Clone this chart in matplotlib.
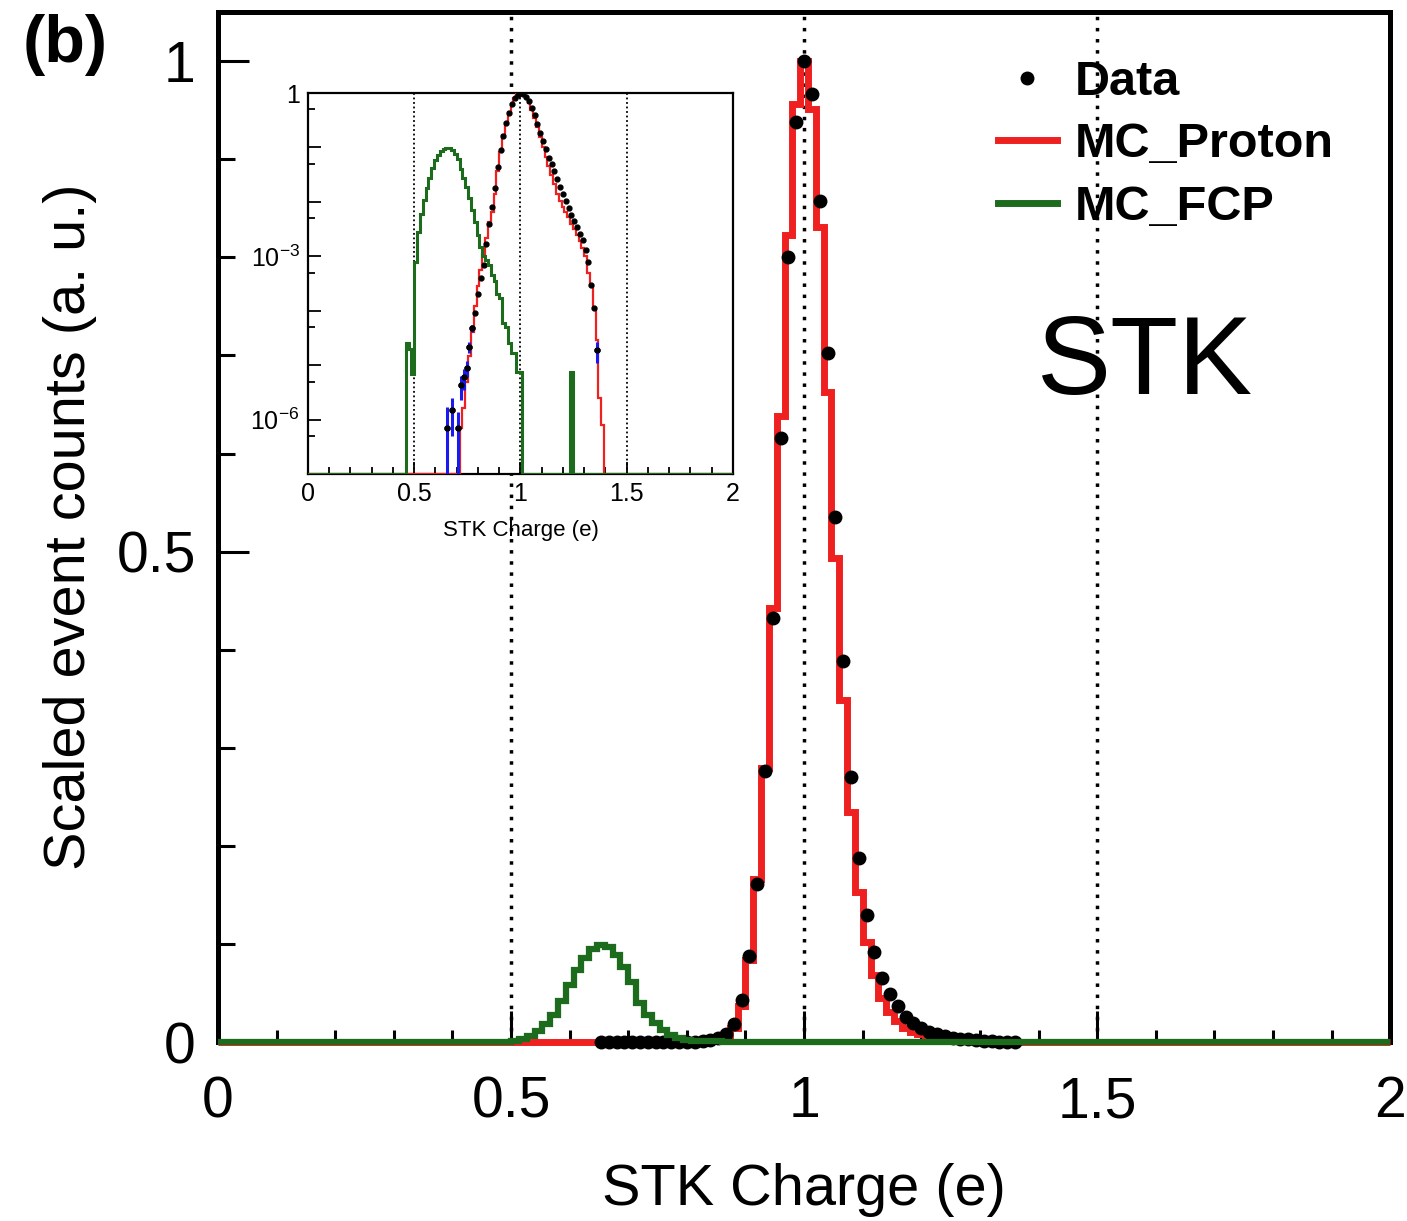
import numpy as np
import matplotlib.pyplot as plt
from matplotlib.ticker import MultipleLocator, FixedLocator, FuncFormatter, NullFormatter
from matplotlib.lines import Line2D

plt.rcParams['font.family'] = ['Liberation Sans', 'DejaVu Sans']
plt.rcParams['mathtext.fontset'] = 'custom'
plt.rcParams['mathtext.rm'] = 'Liberation Sans'
plt.rcParams['mathtext.it'] = 'Liberation Sans:italic'

# binning: bins of 1/75 e centred on multiples of 1/75 (index k -> charge k/75)
n_bins = 151
centers = np.arange(n_bins) / 75.0
edges = np.clip((np.arange(n_bins + 1) - 0.5) / 75.0, 0, 2)

# MC_FCP, bins 35..93
fcp_first = 35
fcp_vals = [2.5e-5, 2.0e-5, 7e-6, 8e-4, 2.8e-3, 6e-3, 0.011, 0.018, 0.028, 0.042,
            0.058, 0.073, 0.086, 0.095, 0.099, 0.097, 0.089, 0.076, 0.061, 0.040,
            0.028, 0.019, 0.012, 0.0072, 0.0042, 0.0025, 0.0015, 0.0010, 8.5e-4, 7e-4,
            4.5e-4, 3.5e-4, 2e-4, 1.7e-4, 6e-5, 5e-5, 2.6e-5, 1.7e-5, 1.7e-5, 7.4e-6,
            7.4e-6, 0, 0, 0, 0, 0, 0, 0, 0, 0,
            0, 0, 0, 0, 0, 0, 0, 0, 7.4e-6]

# MC_Proton, bins 54..104
proton_first = 54
proton_vals = [7e-7, 1.6e-6, 5e-6, 1.5e-5, 4e-5, 1.2e-4, 2.8e-4, 5.5e-4, 1.1e-3, 2.2e-3,
               4.2e-3, 0.0065, 0.014, 0.037, 0.084, 0.166, 0.279, 0.443, 0.638, 0.823,
               0.956, 1.0, 0.951, 0.831, 0.663, 0.494, 0.349, 0.235, 0.153, 0.102,
               0.068, 0.045, 0.031, 0.021, 0.014, 0.0105, 0.0082, 0.0064, 0.0052, 0.0040,
               0.0032, 0.0025, 0.0019, 0.0014, 1.0e-3, 5e-4, 2.8e-4, 1.1e-4, 2.9e-5, 2.5e-6,
               8e-7]

# Data, bins 49..102
data_first = 49
data_vals = [7e-7, 0, 1.5e-6, 0, 7e-7, 4.3e-6, 6e-6, 9e-6, 2.2e-5, 4.8e-5,
             9e-5, 2e-4, 4e-4, 7e-4, 1.7e-3, 4e-3, 0.008, 0.018, 0.043, 0.088,
             0.161, 0.276, 0.432, 0.616, 0.80, 0.938, 1.0, 0.967, 0.857, 0.703,
             0.535, 0.388, 0.270, 0.188, 0.129, 0.092, 0.065, 0.049, 0.037, 0.026,
             0.019, 0.0142, 0.0105, 0.0078, 0.0058, 0.0045, 0.0034, 0.0026, 0.0020, 0.0013,
             8e-4, 3e-4, 1.1e-4, 1.9e-5]

# error bars of the low-statistics data bins (inset)
err_bins = [49, 51, 53, 54, 55, 56, 57, 58, 102]
err_vals = [1e-6, 1.0e-6, 7e-7, 2e-6, 2.5e-6, 3e-6, 5e-6, 7e-6, 8e-6]


def fill(first, vals):
    h = np.zeros(n_bins)
    h[first:first + len(vals)] = vals
    return h


fcp = fill(fcp_first, fcp_vals)
proton = fill(proton_first, proton_vals)
data_x = centers[data_first:data_first + len(data_vals)]
data_y = np.array(data_vals)

red = '#ee2020'
green = '#1d6b1d'
blue = '#1a1aee'

fig = plt.figure(figsize=(14.07, 12.21), dpi=100)
ax = fig.add_axes([0.155, 0.1466, 0.833, 0.8434])

for xv in [0.5, 1.0, 1.5]:
    ax.axvline(xv, color='k', ls=(0, (1, 2.2)), lw=2.5, zorder=1)

ax.stairs(proton, edges, baseline=None, color=red, lw=5, zorder=3, clip_on=False)
ax.plot(data_x, data_y, 'o', color='k', ms=9, zorder=4, clip_on=False)
ax.stairs(fcp, edges, baseline=None, color=green, lw=4.5, zorder=5, clip_on=False)

ax.set_xlim(0, 2)
ax.set_ylim(0, 1.05)
ax.xaxis.set_major_locator(MultipleLocator(0.5))
ax.xaxis.set_minor_locator(MultipleLocator(0.1))
ax.yaxis.set_major_locator(MultipleLocator(0.5))
ax.yaxis.set_minor_locator(MultipleLocator(0.1))
fmt = FuncFormatter(lambda v, p: '%g' % v)
ax.xaxis.set_major_formatter(fmt)
ax.yaxis.set_major_formatter(fmt)
ax.tick_params(which='both', direction='in', top=False, right=False, width=2.2, labelsize=41)
ax.tick_params(which='major', length=22)
ax.tick_params(axis='x', which='major', pad=24)
ax.tick_params(axis='y', which='major', pad=16)
ax.tick_params(axis='x', which='minor', length=9)
ax.tick_params(axis='y', which='minor', length=12)
for s in ax.spines.values():
    s.set_linewidth(3.6)
ax.set_xlabel('STK Charge (e)', fontsize=41.5, labelpad=24)
ax.set_ylabel('Scaled event counts (a. u.)', fontsize=41.5, labelpad=14)

# legend
handles = [Line2D([], [], marker='o', ls='none', color='k', ms=9),
           Line2D([], [], color=red, lw=5),
           Line2D([], [], color=green, lw=5)]
fig.legend(handles, ['Data', 'MC_Proton', 'MC_FCP'], loc='upper left',
           bbox_to_anchor=(0.709, 0.951), frameon=False,
           prop={'weight': 'bold', 'size': 35}, handlelength=1.23,
           handletextpad=0.35, labelspacing=0.36, borderpad=0, borderaxespad=0)

fig.text(0.046, 0.963, '(b)', weight='bold', fontsize=48, ha='center', va='center')
fig.text(0.814, 0.701, 'STK', fontsize=80, ha='center', va='center')

# inset, log scale
ymin_in = 1e-7
axin = fig.add_axes([0.2189, 0.6118, 0.302, 0.312])
axin.set_yscale('log')
for xv in [0.5, 1.0, 1.5]:
    axin.axvline(xv, color='k', ls=(0, (1, 1.5)), lw=1.3, zorder=1)
axin.stairs(np.where(proton > 0, proton, ymin_in), edges, baseline=None,
            color=red, lw=1.6, zorder=3)
axin.stairs(np.where(fcp > 0, fcp, ymin_in), edges, baseline=None,
            color=green, lw=2.2, zorder=5)
pos = data_y > 0
axin.plot(data_x[pos], data_y[pos], 'o', color='k', ms=3.5, zorder=4)
ex = centers[err_bins]
ey = fill(data_first, data_vals)[err_bins]
ee = np.array(err_vals)
lower = np.minimum(ee, ey - ymin_in * 0.5)
axin.errorbar(ex, ey, yerr=[lower, ee], fmt='none', ecolor=blue, elinewidth=2.2, zorder=4)
axin.plot(ex, ey, 'o', color='k', ms=3.5, zorder=6)

axin.set_xlim(0, 2)
axin.set_ylim(ymin_in, 1.0)
axin.xaxis.set_major_locator(MultipleLocator(0.5))
axin.xaxis.set_minor_locator(MultipleLocator(0.1))
axin.xaxis.set_major_formatter(fmt)
decades = [10.0 ** e for e in range(-7, 1)]
axin.yaxis.set_major_locator(FixedLocator(decades))
axin.yaxis.set_minor_locator(FixedLocator([5 * d for d in decades[:-1]]))
ylabels = {0: '1', -3: r'$10^{-3}$', -6: r'$10^{-6}$'}
axin.yaxis.set_major_formatter(FuncFormatter(
    lambda v, p: ylabels.get(int(round(np.log10(v))), '')))
axin.yaxis.set_minor_formatter(NullFormatter())
axin.tick_params(which='both', direction='in', top=False, right=False, width=1.3, labelsize=18)
axin.tick_params(which='major', length=9, pad=6)
axin.tick_params(which='minor', length=5)
for s in axin.spines.values():
    s.set_linewidth(1.6)
axin.set_xlabel('STK Charge (e)', fontsize=16, labelpad=10)

fig.savefig('out.png', dpi=100)
